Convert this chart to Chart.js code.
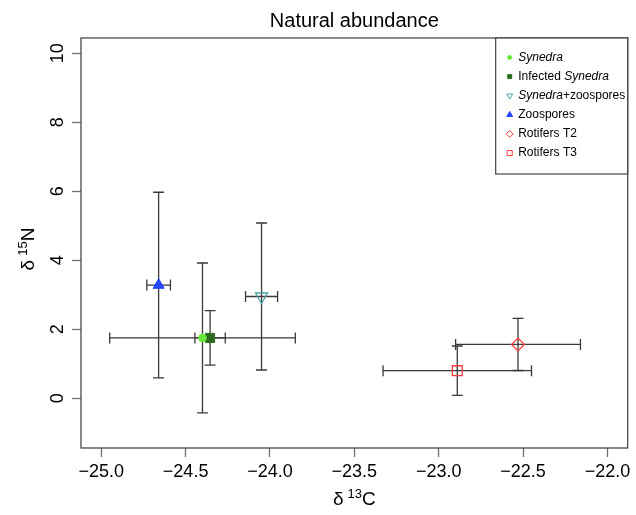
<!DOCTYPE html>
<html><head><meta charset="utf-8">
<script src="https://cdn.jsdelivr.net/npm/chart.js@4.4.0/dist/chart.umd.min.js"></script>
<style>html,body{margin:0;padding:0;background:#fff}#wrap{width:636px;height:515px;position:relative}</style>
</head><body><div id="wrap"><canvas id="c" width="636" height="515"></canvas></div>
<script>
// ---- data ----
const seriesNames = ["Synedra", "Infected Synedra", "Synedra+zoospores", "Zoospores", "Rotifers T2", "Rotifers T3"];
const meanC = [-24.40, -24.355, -24.05, -24.66, -22.53, -22.89];
const meanN = [1.75, 1.75, 2.95, 3.28, 1.56, 0.80];
const sdC = [0.55, 0.09, 0.095, 0.07, 0.37, 0.44];
const sdN = [2.17, 0.79, 2.13, 2.69, 0.755, 0.715];
const xTickValues = [-25, -24.5, -24, -23.5, -23, -22.5, -22];
const xTickLabels = ["−25.0", "−24.5", "−24.0", "−23.5", "−23.0", "−22.5", "−22.0"];
const yTickValues = [0, 2, 4, 6, 8, 10];
const yTickLabels = ["0", "2", "4", "6", "8", "10"];
const legendParts = [
  [["Synedra", true]],
  [["Infected ", false], ["Synedra", true]],
  [["Synedra", true], ["+zoospores", false]],
  [["Zoospores", false]],
  [["Rotifers T2", false]],
  [["Rotifers T3", false]]
];

// ---- styles ----
const FONT = "'Liberation Sans', Arial, Helvetica, sans-serif";
const styles = [
  {ps: 'circle', r: 3.9, rot: 0, fill: '#69e83a', stroke: '#69e83a', lw: 1, lr: 2.0},
  {ps: 'rect', r: 6.4, rot: 0, fill: '#2b6a1f', stroke: '#2b6a1f', lw: 1, lr: 2.8},
  {ps: 'triangle', r: 7.0, rot: 180, fill: 'rgba(0,0,0,0)', stroke: '#4aa3a6', lw: 1.3, lr: 3.4},
  {ps: 'triangle', r: 6.4, rot: 0, fill: '#2447ff', stroke: '#2447ff', lw: 1, lr: 3.4},
  {ps: 'rectRot', r: 6.4, rot: 0, fill: 'rgba(0,0,0,0)', stroke: '#ff3b3b', lw: 1.3, lr: 3.4},
  {ps: 'rect', r: 7.0, rot: 0, fill: 'rgba(0,0,0,0)', stroke: '#ff3b3b', lw: 1.3, lr: 3.6}
];

const datasets = seriesNames.map((n, i) => ({
  label: n,
  data: [{x: meanC[i], y: meanN[i]}],
  pointStyle: styles[i].ps,
  pointRadius: styles[i].r,
  pointRotation: styles[i].rot,
  backgroundColor: styles[i].fill,
  borderColor: styles[i].stroke,
  borderWidth: styles[i].lw
}));

const errorBars = {
  id: 'errorBars',
  beforeDatasetsDraw(chart) {
    const {ctx, scales: {x, y}} = chart;
    ctx.save();
    ctx.strokeStyle = '#3a3a3a';
    ctx.lineWidth = 1.3;
    const cap = 5.5;
    for (let i = 0; i < meanC.length; i++) {
      const px = x.getPixelForValue(meanC[i]);
      const py = y.getPixelForValue(meanN[i]);
      const x1 = x.getPixelForValue(meanC[i] - sdC[i]);
      const x2 = x.getPixelForValue(meanC[i] + sdC[i]);
      const y1 = y.getPixelForValue(meanN[i] - sdN[i]);
      const y2 = y.getPixelForValue(meanN[i] + sdN[i]);
      ctx.beginPath();
      ctx.moveTo(px, y1); ctx.lineTo(px, y2);
      ctx.moveTo(px - cap, y1); ctx.lineTo(px + cap, y1);
      ctx.moveTo(px - cap, y2); ctx.lineTo(px + cap, y2);
      ctx.moveTo(x1, py); ctx.lineTo(x2, py);
      ctx.moveTo(x1, py - cap); ctx.lineTo(x1, py + cap);
      ctx.moveTo(x2, py - cap); ctx.lineTo(x2, py + cap);
      ctx.stroke();
    }
    ctx.restore();
  }
};

const decor = {
  id: 'decor',
  afterDraw(chart) {
    const {ctx, chartArea: a, scales: {y}} = chart;
    ctx.save();
    // plot box
    ctx.strokeStyle = '#4a4a4a';
    ctx.lineWidth = 1.3;
    ctx.strokeRect(a.left, a.top, a.right - a.left, a.bottom - a.top);

    // y tick labels (rotated, as in R)
    ctx.fillStyle = '#000';
    ctx.font = '18px ' + FONT;
    ctx.textAlign = 'center';
    ctx.textBaseline = 'middle';
    yTickValues.forEach((v, i) => {
      const py = y.getPixelForValue(v);
      ctx.save();
      ctx.translate(a.left - 24, py);
      ctx.rotate(-Math.PI / 2);
      ctx.fillText(yTickLabels[i], 0, 1);
      ctx.restore();
    });

    // axis titles with superscripts
    function supTitle(base, sup, tail) {
      ctx.font = '19px ' + FONT;
      const w1 = ctx.measureText(base).width;
      const w3 = ctx.measureText(tail).width;
      ctx.font = '13px ' + FONT;
      const w2 = ctx.measureText(sup).width;
      const gap = 4;
      const total = w1 + gap + w2 + w3;
      let cx = -total / 2;
      ctx.textAlign = 'left';
      ctx.textBaseline = 'alphabetic';
      ctx.font = '19px ' + FONT;
      ctx.fillText(base, cx, 0); cx += w1 + gap;
      ctx.font = '13px ' + FONT;
      ctx.fillText(sup, cx, -7); cx += w2;
      ctx.font = '19px ' + FONT;
      ctx.fillText(tail, cx, 0);
    }
    ctx.save();
    ctx.translate((a.left + a.right) / 2, 505);
    supTitle('δ', '13', 'C');
    ctx.restore();
    ctx.save();
    ctx.translate(34, (a.top + a.bottom) / 2 + 6);
    ctx.rotate(-Math.PI / 2);
    supTitle('δ', '15', 'N');
    ctx.restore();

    // legend
    const lw = 132, lh = 136;
    const lx = a.right - lw, ly = a.top;
    ctx.fillStyle = '#fff';
    ctx.fillRect(lx, ly, lw, lh);
    ctx.strokeStyle = '#333';
    ctx.lineWidth = 1.1;
    ctx.strokeRect(lx, ly, lw, lh);
    for (let i = 0; i < seriesNames.length; i++) {
      const ry = ly + 19.5 + 19.1 * i;
      const s = styles[i];
      ctx.fillStyle = s.fill;
      ctx.strokeStyle = s.stroke;
      ctx.lineWidth = 1;
      Chart.helpers.drawPoint(ctx, {pointStyle: s.ps, radius: s.lr, rotation: s.rot, borderWidth: 1}, lx + 14, ry);
      let tx = lx + 22.5;
      ctx.fillStyle = '#000';
      ctx.textAlign = 'left';
      ctx.textBaseline = 'middle';
      legendParts[i].forEach(([t, it]) => {
        ctx.font = (it ? 'italic ' : '') + '12px ' + FONT;
        ctx.fillText(t, tx, ry);
        tx += ctx.measureText(t).width;
      });
    }
    ctx.restore();
  }
};

new Chart(document.getElementById('c'), {
  type: 'scatter',
  data: {datasets},
  options: {
    responsive: false,
    animation: false,
    events: [],
    layout: {padding: {left: 0, right: 5, top: 0, bottom: 0}},
    plugins: {
      legend: {display: false},
      tooltip: {enabled: false},
      title: {
        display: true,
        text: 'Natural abundance',
        fullSize: false,
        color: '#000',
        font: {family: FONT, size: 20, weight: 'normal', lineHeight: 1.2},
        padding: {top: 9, bottom: 5}
      }
    },
    scales: {
      x: {
        type: 'linear',
        min: -25.12, max: -21.88,
        afterBuildTicks: s => { s.ticks = xTickValues.map(v => ({value: v})); },
        afterFit: s => { s.height = 67; },
        border: {display: false},
        grid: {drawOnChartArea: false, drawTicks: true, tickLength: 9, tickColor: '#707070', tickWidth: 1.3},
        ticks: {
          autoSkip: false, maxRotation: 0, minRotation: 0, padding: 4,
          color: '#000', font: {family: FONT, size: 18},
          callback: (v, i) => xTickLabels[i]
        }
      },
      y: {
        type: 'linear',
        min: -1.44, max: 10.44,
        afterBuildTicks: s => { s.ticks = yTickValues.map(v => ({value: v})); },
        afterFit: s => { s.width = 81; },
        border: {display: false},
        grid: {drawOnChartArea: false, drawTicks: true, tickLength: 9, tickColor: '#707070', tickWidth: 1.3},
        ticks: {display: false}
      }
    }
  },
  plugins: [errorBars, decor]
});
</script>
</body></html>
